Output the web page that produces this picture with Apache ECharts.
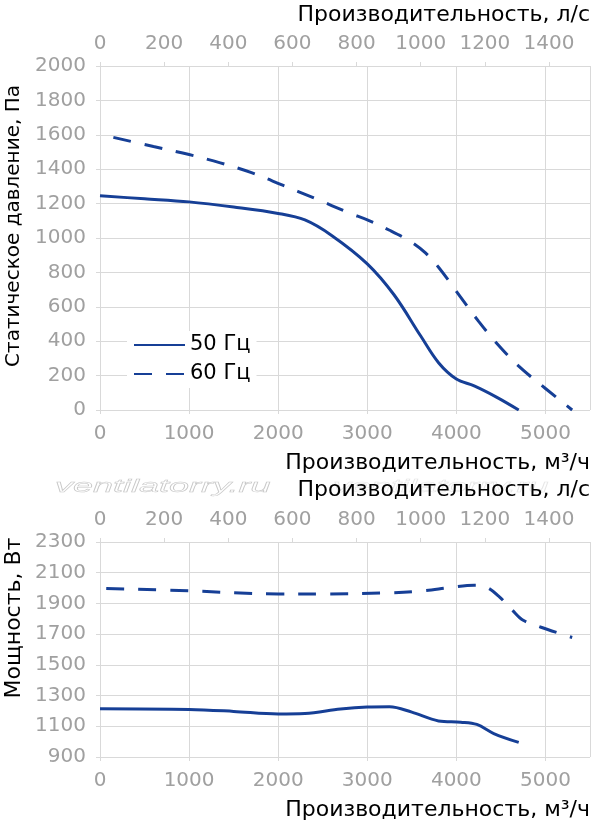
<!DOCTYPE html>
<html lang="ru">
<head>
<meta charset="UTF-8" />
<title>Вентилятор</title>
<script src="https://cdn.jsdelivr.net/npm/echarts@6/dist/echarts.min.js"></script>
<style>
  html, body { margin: 0; padding: 0; background: #fff; }
  #chart { width: 597px; height: 823px; }
</style>
</head>
<body>
<div id="chart"></div>
<script>
// статическое давление, Па
const pressFlow50 = [0, 500, 1000, 1500, 2000, 2300, 2600, 3000, 3300, 3600, 3800, 4000, 4200, 4450, 4700];
const pressure50 = [1245, 1228, 1210, 1180, 1143, 1105, 1015, 850, 670, 430, 275, 180, 140, 75, 0];
const pressFlow60 = [150, 600, 1000, 1350, 1700, 2050, 2400, 2800, 3000, 3250, 3500, 3650, 3800, 4000, 4250, 4450, 4700, 5000, 5300];
const pressure60 = [1585, 1532, 1485, 1437, 1380, 1307, 1233, 1145, 1105, 1045, 975, 915, 830, 690, 515, 390, 255, 125, 0];

// мощность, Вт
const powerFlow50 = [0, 1000, 1500, 2000, 2300, 2700, 3000, 3250, 3500, 3800, 4050, 4230, 4420, 4700];
const power50 = [1215, 1210, 1197, 1180, 1183, 1212, 1225, 1227, 1192, 1135, 1127, 1112, 1053, 995];
const powerFlow60 = [70, 1000, 2000, 2500, 3200, 3600, 3950, 4200, 4330, 4480, 4630, 4750, 4950, 5300];
const power60 = [1998, 1982, 1962, 1962, 1968, 1980, 2005, 2018, 2008, 1945, 1855, 1790, 1745, 1678];

const seriesNames = ['50 Гц', '60 Гц'];
const flowTitle = 'Производительность, м³/ч';
const litreTitle = 'Производительность, л/с';
const pressureTitle = 'Статическое давление, Па';
const powerTitle = 'Мощность, Вт';

const FLOW_MAX = 5500;
const LS_PER_M3H = 1 / 3.6;
const font = 'DejaVu Sans';
const labelColor = '#a0a0a0';
const gridColor = '#d9d9d9';
const lineColor = '#163f96';
const dash = [18, 14];

function pairs(xs, ys) {
  return xs.map((x, i) => [x, ys[i]]);
}

function plain(v) {
  return String(Math.round(v));
}

function labelStyle(margin, extra) {
  return Object.assign({ margin: margin, color: labelColor, fontFamily: font, fontSize: 20, formatter: plain }, extra);
}

function flowAxis(gridIndex) {
  return {
    type: 'value', gridIndex: gridIndex, position: 'bottom',
    min: 0, max: FLOW_MAX, interval: 1000,
    axisLine: { show: false },
    axisTick: { show: true, length: 4, lineStyle: { color: gridColor } },
    axisLabel: labelStyle(14, { showMaxLabel: false }),
    splitLine: { show: true, lineStyle: { color: gridColor, width: 1 } }
  };
}

function litreAxis(gridIndex) {
  return {
    type: 'value', gridIndex: gridIndex, position: 'top',
    min: 0, max: FLOW_MAX * LS_PER_M3H, interval: 200,
    axisLine: { show: false },
    axisTick: { show: true, length: 4, lineStyle: { color: gridColor } },
    axisLabel: labelStyle(12, { showMaxLabel: false }),
    splitLine: { show: false }
  };
}

function valueAxis(gridIndex, min, max, interval) {
  return {
    type: 'value', gridIndex: gridIndex,
    min: min, max: max, interval: interval,
    axisLine: { show: false },
    axisTick: { show: true, length: 4, lineStyle: { color: gridColor } },
    axisLabel: labelStyle(14, {}),
    splitLine: { show: true, lineStyle: { color: gridColor, width: 1 } }
  };
}

function curve(name, xIndex, yIndex, data, dashed) {
  return {
    name: name, type: 'line', xAxisIndex: xIndex, yAxisIndex: yIndex,
    data: data, smooth: 0.35, symbol: 'none', showSymbol: false, animation: false,
    lineStyle: { color: lineColor, width: 3, type: dashed ? dash : 'solid' },
    itemStyle: { color: lineColor }
  };
}

function title(text, right, cy) {
  return {
    type: 'text', x: right, y: cy, z: 10,
    style: { text: text, fill: '#000', font: '22px "' + font + '"', textAlign: 'right', textVerticalAlign: 'middle' }
  };
}

function sideTitle(text, cx, cy, size) {
  return {
    type: 'text', x: cx, y: cy, rotation: Math.PI / 2, z: 10,
    style: { text: text, fill: '#000', font: size + 'px "' + font + '"', textAlign: 'center', textVerticalAlign: 'middle' }
  };
}

function watermark(x, cy, stroke) {
  return {
    type: 'text', x: x, y: cy, scaleX: 2, z: 1,
    style: {
      text: 'ventilatorry.ru', fill: 'rgba(255,255,255,0)', stroke: stroke, lineWidth: 0.5,
      font: 'italic 18px "Liberation Sans"', textAlign: 'left', textVerticalAlign: 'middle'
    }
  };
}

const chart = echarts.init(document.getElementById('chart'), null, { renderer: 'canvas' });

chart.setOption({
  animation: false,
  backgroundColor: '#fff',
  grid: [
    { left: 100, right: 7, top: 66, height: 344 },
    { left: 100, right: 7, top: 542, height: 215 }
  ],
  xAxis: [flowAxis(0), litreAxis(0), flowAxis(1), litreAxis(1)],
  yAxis: [valueAxis(0, 0, 2000, 200), valueAxis(1, 900, 2300, 200)],
  legend: {
    data: seriesNames, left: 127, top: 331, orient: 'vertical',
    backgroundColor: '#fff', padding: [3, 6, 3, 6],
    itemWidth: 51, itemHeight: 14, itemGap: 7,
    itemStyle: { opacity: 0 },
    textStyle: { color: '#000', fontFamily: font, fontSize: 21, lineHeight: 22 }
  },
  graphic: [
    watermark(55, 487, '#c8c8c8'),
    watermark(333, 487, '#e6e6e6'),
    title(litreTitle, 590, 15),
    title(flowTitle, 590, 463),
    title(litreTitle, 590, 490),
    title(flowTitle, 590, 810),
    sideTitle(pressureTitle, 14, 226, 20),
    sideTitle(powerTitle, 14, 618, 22)
  ],
  series: [
    curve(seriesNames[0], 0, 0, pairs(pressFlow50, pressure50), false),
    curve(seriesNames[1], 0, 0, pairs(pressFlow60, pressure60), true),
    curve(seriesNames[0], 2, 1, pairs(powerFlow50, power50), false),
    curve(seriesNames[1], 2, 1, pairs(powerFlow60, power60), true)
  ]
});
</script>
</body>
</html>
